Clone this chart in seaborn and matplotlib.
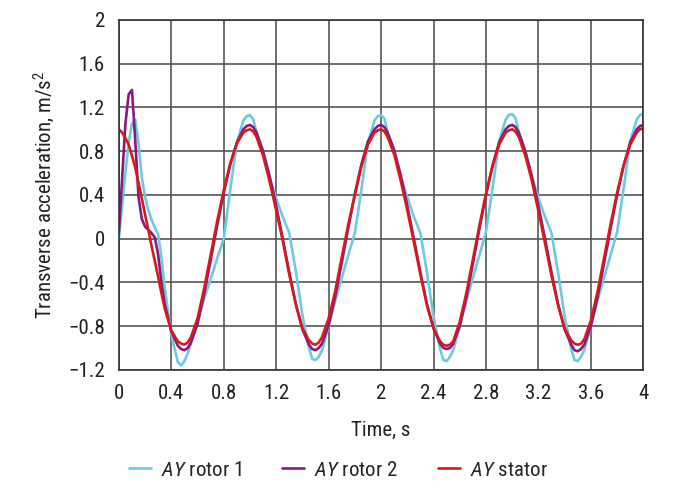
import numpy as np
import pandas as pd
import matplotlib
matplotlib.use("Agg")
import matplotlib.pyplot as plt
import seaborn as sns
from matplotlib.ticker import FuncFormatter

# time axis, s (finer step during the start-up transient and around the extrema)
time = [0, 0.025, 0.05, 0.075, 0.1, 0.125, 0.15, 0.175, 0.2, 0.225, 0.25, 0.275, 0.3, 0.325, 0.35,
        0.4, 0.45, 0.475, 0.5, 0.525, 0.55, 0.6, 0.65, 0.7, 0.75, 0.8, 0.85, 0.9, 0.95, 0.975, 1.0,
        1.025, 1.05, 1.1, 1.15, 1.2, 1.25, 1.3, 1.35, 1.4, 1.45, 1.475, 1.5, 1.525, 1.55, 1.6, 1.65, 1.7, 1.75, 1.8, 1.85, 1.9, 1.95, 1.975, 2.0,
        2.025, 2.05, 2.1, 2.15, 2.2, 2.25, 2.3, 2.35, 2.4, 2.45, 2.475, 2.5, 2.525, 2.55, 2.6, 2.65, 2.7, 2.75, 2.8, 2.85, 2.9, 2.95, 2.975, 3.0,
        3.025, 3.05, 3.1, 3.15, 3.2, 3.25, 3.3, 3.35, 3.4, 3.45, 3.475, 3.5, 3.525, 3.55, 3.6, 3.65, 3.7, 3.75, 3.8, 3.85, 3.9, 3.95, 3.975, 4.0]

ay_rotor1 = [0.0, 0.3, 0.6, 0.88, 1.05, 1.09, 0.87, 0.56, 0.38, 0.26, 0.17, 0.1, 0.04, -0.18, -0.45,
             -0.88, -1.13, -1.16, -1.12, -1.05, -0.96, -0.75, -0.55, -0.37, -0.18, 0.0, 0.45, 0.88, 1.08, 1.12, 1.13,
             1.09, 0.97, 0.78, 0.55, 0.37, 0.2, 0.05, -0.3, -0.7, -1.0, -1.1, -1.11, -1.08, -1.02, -0.8, -0.57, -0.36, -0.15, 0.05, 0.45, 0.88, 1.08, 1.12, 1.13,
             1.1, 0.97, 0.78, 0.56, 0.38, 0.2, 0.05, -0.31, -0.71, -1.01, -1.11, -1.12, -1.08, -1.02, -0.8, -0.57, -0.36, -0.15, 0.06, 0.46, 0.89, 1.09, 1.13, 1.14,
             1.1, 0.98, 0.79, 0.56, 0.37, 0.2, 0.05, -0.31, -0.71, -1.01, -1.11, -1.12, -1.08, -1.02, -0.8, -0.57, -0.36, -0.15, 0.06, 0.46, 0.89, 1.09, 1.13, 1.15]

ay_rotor2 = [0.05, 0.55, 1.05, 1.32, 1.36, 0.9, 0.38, 0.18, 0.11, 0.08, 0.05, 0.01, -0.15, -0.4, -0.6,
             -0.85, -0.98, -1.01, -1.02, -1.0, -0.95, -0.78, -0.51, -0.2, 0.12, 0.42, 0.68, 0.88, 1.0, 1.03, 1.04,
             1.02, 0.97, 0.8, 0.57, 0.3, 0.0, -0.31, -0.6, -0.83, -0.97, -1.01, -1.02, -1.0, -0.96, -0.79, -0.53, -0.22, 0.1, 0.41, 0.68, 0.89, 1.0, 1.03, 1.04,
             1.02, 0.97, 0.81, 0.58, 0.3, 0.0, -0.31, -0.6, -0.82, -0.96, -1.0, -1.01, -1.0, -0.96, -0.8, -0.54, -0.23, 0.09, 0.4, 0.67, 0.88, 1.0, 1.03, 1.04,
             1.02, 0.97, 0.8, 0.57, 0.3, 0.0, -0.31, -0.6, -0.83, -0.97, -1.02, -1.03, -1.01, -0.97, -0.8, -0.54, -0.23, 0.09, 0.4, 0.67, 0.88, 1.0, 1.03, 1.04]

ay_stator = [1.0, 0.97, 0.92, 0.86, 0.76, 0.65, 0.51, 0.37, 0.22, 0.08, -0.07, -0.21, -0.35, -0.5, -0.64,
             -0.84, -0.94, -0.96, -0.97, -0.95, -0.9, -0.73, -0.46, -0.15, 0.16, 0.44, 0.69, 0.87, 0.97, 0.99, 1.0,
             0.98, 0.93, 0.76, 0.52, 0.26, -0.02, -0.33, -0.6, -0.82, -0.93, -0.96, -0.97, -0.95, -0.9, -0.73, -0.48, -0.17, 0.13, 0.4, 0.66, 0.86, 0.97, 0.99, 1.0,
             0.98, 0.93, 0.77, 0.53, 0.26, -0.03, -0.33, -0.61, -0.82, -0.94, -0.97, -0.98, -0.97, -0.94, -0.76, -0.5, -0.19, 0.12, 0.41, 0.66, 0.86, 0.97, 0.99, 1.0,
             0.98, 0.93, 0.76, 0.53, 0.25, -0.04, -0.34, -0.61, -0.82, -0.93, -0.96, -0.97, -0.96, -0.92, -0.75, -0.49, -0.18, 0.13, 0.42, 0.67, 0.86, 0.97, 1.0, 1.01]

labels = [r"$\it{AY}$ rotor 1", r"$\it{AY}$ rotor 2", r"$\it{AY}$ stator"]
colors = ["#6ccbdc", "#88197f", "#d7191c"]

assert len(time) == len(ay_rotor1) == len(ay_rotor2) == len(ay_stator)

df = pd.DataFrame({
    "t": time * 3,
    "ay": ay_rotor1 + ay_rotor2 + ay_stator,
    "series": [labels[0]] * len(time) + [labels[1]] * len(time) + [labels[2]] * len(time),
})

sns.set_theme(style="white")
plt.rcParams["font.family"] = ["Roboto Condensed", "Roboto", "DejaVu Sans"]
plt.rcParams["mathtext.fontset"] = "custom"
plt.rcParams["mathtext.rm"] = "Roboto Condensed"
plt.rcParams["mathtext.it"] = "Roboto Condensed:italic"

fig = plt.figure(figsize=(6.91, 4.86), dpi=100)
ax = fig.add_axes([0.172, 0.239, 0.759, 0.72])

sns.lineplot(data=df, x="t", y="ay", hue="series", palette=colors, linewidth=1.9, ax=ax, sort=False)

ax.set_xlim(0, 4)
ax.set_ylim(-1.2, 2)
ax.set_xticks(np.arange(0, 4.01, 0.4))
ax.set_yticks(np.arange(-1.2, 2.01, 0.4))
fmt = FuncFormatter(lambda v, p: "{:g}".format(round(v, 1)).replace("-", "\u2212"))
ax.xaxis.set_major_formatter(fmt)
ax.yaxis.set_major_formatter(fmt)
ax.grid(True, color="#555555", linewidth=1.2)
ax.set_axisbelow(True)
for s in ax.spines.values():
    s.set_color("#333333")
    s.set_linewidth(1.2)
ax.tick_params(axis="both", direction="out", length=5, width=1, color="#333333",
               labelsize=15, labelcolor="#222222", pad=5)

ax.set_xlabel("Time, s", fontsize=15, color="#222222", labelpad=13)
ax.set_ylabel("Transverse acceleration, m/s$^2$", fontsize=15, color="#222222", labelpad=8)

handles, labs = ax.get_legend_handles_labels()
ax.get_legend().remove()
fig.legend(handles, labs, loc="center", bbox_to_anchor=(0.49, 1 - 470 / 486), ncol=3, frameon=False,
           fontsize=15, handlelength=1.05, columnspacing=1.9, handletextpad=0.5)

plt.savefig("out.png", dpi=100)
